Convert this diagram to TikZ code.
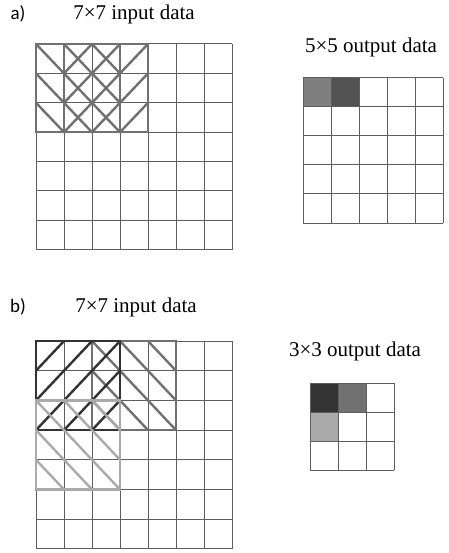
\documentclass[tikz,border=0pt]{standalone}
\usepackage{fontspec}
\setmainfont{Liberation Serif}
\newfontfamily\labelfont{Carlito}
\usetikzlibrary{positioning}
\definecolor{gridLine}{HTML}{5E5E5E}
\definecolor{kernDark}{HTML}{333333}
\definecolor{kernMid}{HTML}{717171}
\definecolor{kernLight}{HTML}{AAAAAA}

% n x n grid of unit cells, drawn in the current scope
\newcommand{\cellgrid}[1]{%
  \foreach \k in {0,...,#1} {
    \draw[gridlines] (\k,0) -- (\k,#1);
    \draw[gridlines] (0,\k) -- (#1,\k);
  }}

\begin{document}
\begin{tikzpicture}[x=1pt, y=-1pt,
    every node/.style={font=\fontsize{21}{24}\selectfont, inner sep=0pt},
    panel/.style={font=\labelfont\fontsize{19}{22}\selectfont},
    gridlines/.style={draw=gridLine, line width=1pt},
    kern/.style={line width=2.4pt, line cap=round}]
  \useasboundingbox (0,0) rectangle (448,553);

  % ---- a) stride 1
  \node[panel] (lblA) at (18,14) {a)};
  \node (inA) at (134,14) {7×7 input data};
  \node (outA) at (371,47) {5×5 output data};
  \begin{scope}[shift={(36,44)}, xscale=28, yscale=29.4]
    \cellgrid{7}
    \foreach \i in {0,1,2} \foreach \j in {0,1,2}
      \draw[kern, draw=kernMid] (\i,\j) -- ++(1,1);
    \foreach \i in {1,2,3} \foreach \j in {0,1,2}
      \draw[kern, draw=kernMid] (\i,\j+1) -- ++(1,-1);
    \draw[kern, draw=kernMid] (0,0) rectangle (3,3);
    \draw[kern, draw=kernMid] (1,0) rectangle (4,3);
  \end{scope}
  \begin{scope}[shift={(303,78)}, xscale=28, yscale=29]
    \fill[kernMid!90] (0,0) rectangle (1,1);
    \fill[kernDark!85!white] (1,0) rectangle (2,1);
    \cellgrid{5}
  \end{scope}

  % ---- b) stride 2
  \node[panel] (lblB) at (18,307) {b)};
  \node (inB) at (136,307) {7×7 input data};
  \node (outB) at (355,351) {3×3 output data};
  \begin{scope}[shift={(36,341)}, xscale=28, yscale=29.7]
    \cellgrid{7}
    \foreach \i in {2,3,4} \foreach \j in {0,1,2}
      \draw[kern, draw=kernMid] (\i,\j) -- ++(1,1);
    \draw[kern, draw=kernMid] (2,0) rectangle (5,3);
    \foreach \i in {0,1,2} \foreach \j in {0,1,2}
      \draw[kern, draw=kernDark] (\i,\j+1) -- ++(1,-1);
    \draw[kern, draw=kernDark] (0,0) rectangle (3,3);
    \foreach \i in {0,1,2} \foreach \j in {2,3,4}
      \draw[kern, draw=kernLight] (\i,\j) -- ++(1,1);
    \draw[kern, draw=kernLight] (0,2) rectangle (3,5);
  \end{scope}
  \begin{scope}[shift={(310,383)}, xscale=28, yscale=29]
    \fill[kernDark] (0,0) rectangle (1,1);
    \fill[kernMid] (1,0) rectangle (2,1);
    \fill[kernLight] (0,1) rectangle (1,2);
    \cellgrid{3}
  \end{scope}
\end{tikzpicture}
\end{document}
